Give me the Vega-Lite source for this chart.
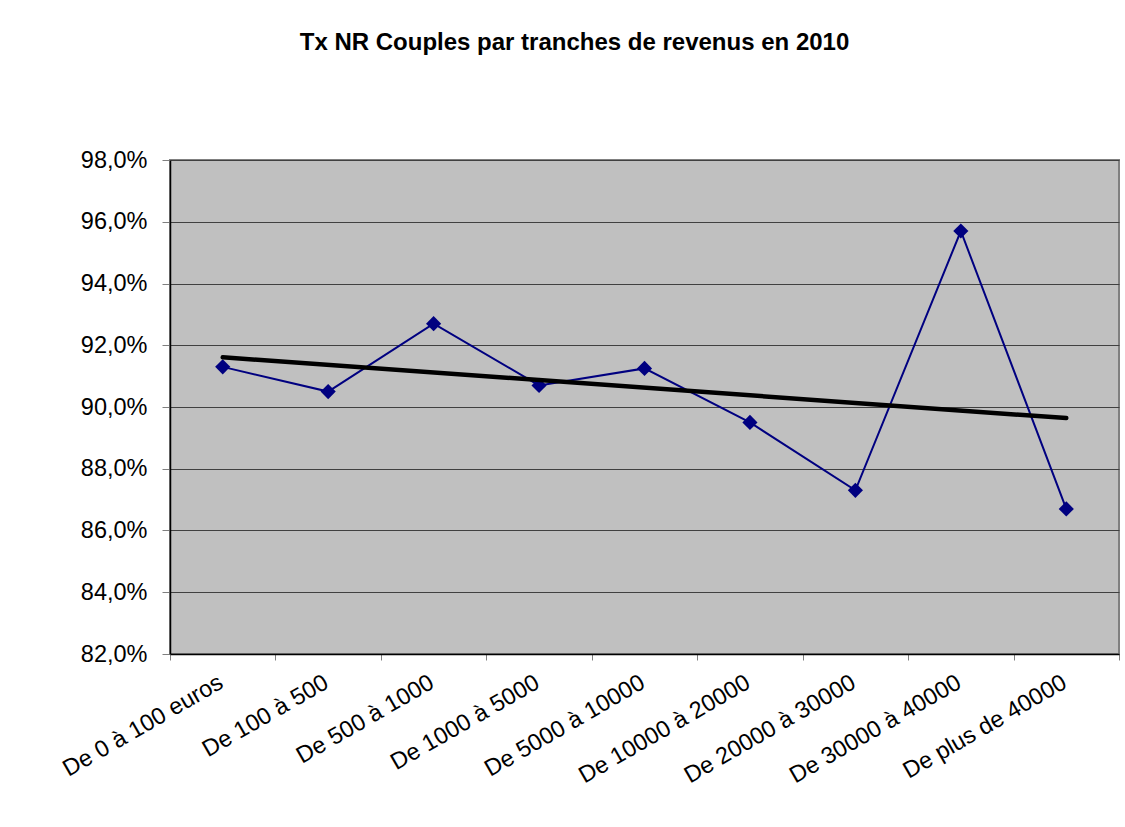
{
  "$schema": "https://vega.github.io/schema/vega-lite/v6.json",
  "autosize": "none",
  "width": 949,
  "height": 494,
  "padding": {"left": 170, "top": 160, "right": 6, "bottom": 173},
  "background": "white",
  "title": {
    "text": "Tx NR Couples par tranches de revenus en 2010",
    "font": "Liberation Sans",
    "fontSize": 24,
    "fontWeight": "bold",
    "color": "black",
    "anchor": "middle",
    "dx": -70,
    "offset": 93
  },
  "datasets": {
    "taux": [
      {"tranche": "De 0 à 100 euros", "taux": 0.913},
      {"tranche": "De 100 à 500", "taux": 0.905},
      {"tranche": "De 500 à 1000", "taux": 0.927},
      {"tranche": "De 1000 à 5000", "taux": 0.907},
      {"tranche": "De 5000 à 10000", "taux": 0.9125},
      {"tranche": "De 10000 à 20000", "taux": 0.895},
      {"tranche": "De 20000 à 30000", "taux": 0.873},
      {"tranche": "De 30000 à 40000", "taux": 0.957},
      {"tranche": "De plus de 40000", "taux": 0.867}
    ],
    "tendance": [
      {"tranche": "De 0 à 100 euros", "taux": 0.9161},
      {"tranche": "De plus de 40000", "taux": 0.8964}
    ]
  },
  "encoding": {
    "x": {
      "field": "tranche",
      "type": "nominal",
      "sort": null,
      "scale": {
        "domain": ["De 0 à 100 euros", "De 100 à 500", "De 500 à 1000", "De 1000 à 5000", "De 5000 à 10000", "De 10000 à 20000", "De 20000 à 30000", "De 30000 à 40000", "De plus de 40000"],
        "paddingInner": 0,
        "paddingOuter": 0
      },
      "axis": {
        "title": null,
        "labelAngle": -30,
        "labelAlign": "right",
        "labelBaseline": "top",
        "labelFont": "Liberation Sans",
        "labelFontSize": 23.5,
        "labelColor": "black",
        "labelPadding": 10,
        "labelOffset": -8,
        "tickBand": "extent",
        "tickSize": 6,
        "tickColor": "#808080",
        "domainColor": "black",
        "domainWidth": 1.5,
        "grid": false,
        "labelOverlap": false,
        "labelLimit": 400
      }
    },
    "y": {
      "field": "taux",
      "type": "quantitative",
      "scale": {"domain": [0.82, 0.98], "zero": false, "nice": false},
      "axis": {
        "title": null,
        "values": [0.82, 0.84, 0.86, 0.88, 0.90, 0.92, 0.94, 0.96, 0.98],
        "labelExpr": "replace(format(datum.value, '.1%'), '.', ',')",
        "labelFont": "Liberation Sans",
        "labelFontSize": 23.5,
        "labelColor": "black",
        "labelPadding": 15,
        "tickSize": 8,
        "tickColor": "#808080",
        "domainColor": "black",
        "domainWidth": 1.5,
        "grid": true,
        "gridColor": "#404040",
        "gridWidth": 1
      }
    }
  },
  "layer": [
    {
      "data": {"name": "taux"},
      "mark": {"type": "line", "color": "#000080", "strokeWidth": 2}
    },
    {
      "data": {"name": "taux"},
      "mark": {"type": "point", "shape": "diamond", "filled": true, "color": "#000080", "size": 230, "opacity": 1}
    },
    {
      "data": {"name": "tendance"},
      "mark": {"type": "line", "color": "black", "strokeWidth": 4.5, "strokeCap": "round"}
    }
  ],
  "config": {
    "view": {"fill": "#C0C0C0", "stroke": "#808080", "strokeWidth": 2}
  }
}
